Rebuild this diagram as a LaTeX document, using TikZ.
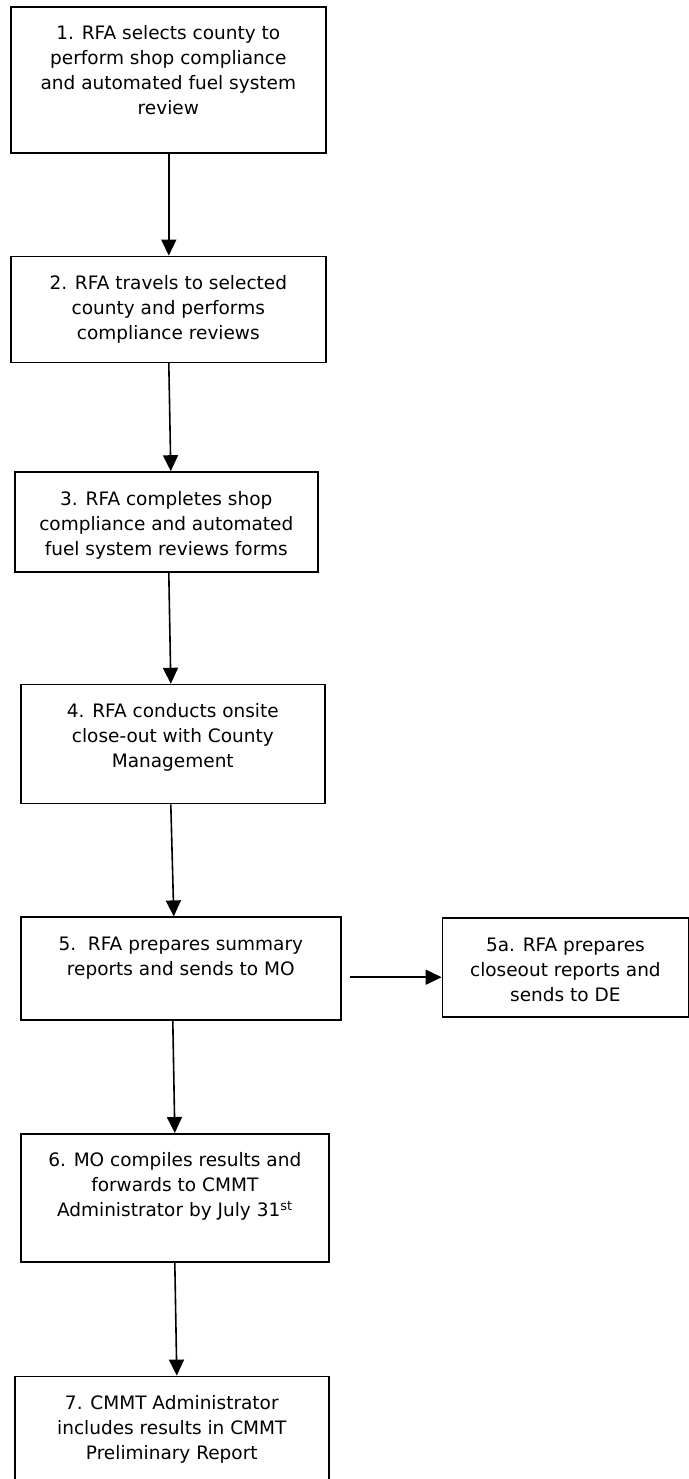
\documentclass[tikz,border=0pt]{standalone}
\usepackage{fontspec}
\setmainfont{DejaVu Sans}
\usetikzlibrary{positioning, arrows.meta}

% text set at the top of a box of given width and height
\newcommand{\boxlines}[3]{\parbox[c][#2][t]{#1}{\centering\vspace*{15.5pt}\strut #3}}

\tikzset{
  stepbox/.style={draw, line width=1.6pt, inner sep=0pt, font=\fontsize{18.5pt}{25pt}\selectfont},
  flowarrow/.style={-{Triangle[width=15pt,length=16pt]}, line width=1.6pt},
}

\begin{document}
\begin{tikzpicture}[x=1pt, y=-1pt, node distance=102pt]
  \useasboundingbox (0,0) rectangle (688,1479);
  \node[stepbox, anchor=north west] (b1) at (10,6) {\boxlines{315pt}{146pt}{1. RFA selects county to\\perform shop compliance\\and automated fuel system\\review}};
  \node[stepbox, below=102pt of b1] (b2) {\boxlines{315pt}{106pt}{2. RFA travels to selected\\county and performs\\compliance reviews}};
  \node[stepbox, below=108pt of b2, xshift=-2pt] (b3) {\boxlines{303pt}{100pt}{3. RFA completes shop\\compliance and automated\\fuel system reviews forms}};
  \node[stepbox, below=111pt of b3, xshift=6.5pt] (b4) {\boxlines{304pt}{119pt}{4. RFA conducts onsite\\close-out with County\\Management}};
  \node[stepbox, below=112pt of b4, xshift=8pt] (b5) {\boxlines{320pt}{103pt}{5.\ \ RFA prepares summary\\reports and sends to MO}};
  \node[stepbox, right=100pt of b5, yshift=1pt] (b5a) {\boxlines{246pt}{99pt}{5a. RFA prepares\\closeout reports and\\sends to DE}};
  \node[stepbox, below=112pt of b5, xshift=-6pt] (b6) {\boxlines{308pt}{128pt}{6. MO compiles results and\\forwards to CMMT\\Administrator by July 31\textsuperscript{st}}};
  \node[stepbox, below=113pt of b6, xshift=-3pt] (b7) {\boxlines{314pt}{111pt}{7. CMMT Administrator\\includes results in CMMT\\Preliminary Report}};
  \draw[flowarrow] ([xshift=0.5pt]b1.south) -- ([xshift=0.5pt]b2.north);
  \draw[flowarrow] ([xshift=0.5pt]b2.south) -- ([xshift=4.5pt]b3.north);
  \draw[flowarrow] ([xshift=2.5pt]b3.south) -- ([xshift=-2pt]b4.north);
  \draw[flowarrow] ([xshift=-2pt]b4.south) -- ([xshift=-7pt]b5.north);
  \draw[flowarrow] ([xshift=-8pt]b5.south) -- (b6.north);
  \draw[flowarrow] (b6.south) -- ([xshift=5pt]b7.north);
  \draw[flowarrow] ([xshift=8pt,yshift=-8.5pt]b5.east) -- ([yshift=-9.5pt]b5a.west);
\end{tikzpicture}
\end{document}
